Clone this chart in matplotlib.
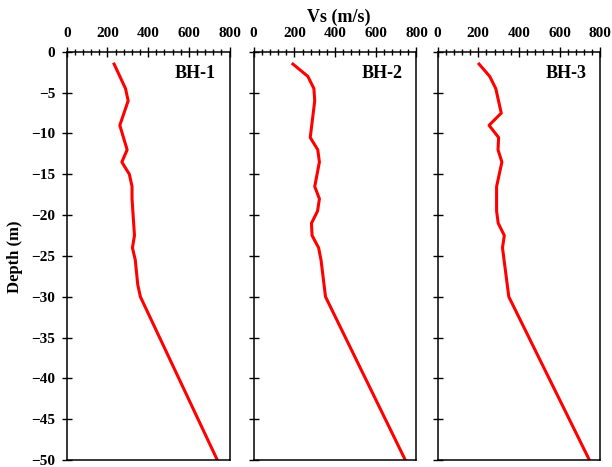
import numpy as np
import matplotlib
matplotlib.use('Agg')
import matplotlib.pyplot as plt
from matplotlib.ticker import MultipleLocator

plt.rcParams['font.family'] = ['Liberation Serif', 'DejaVu Serif']
plt.rcParams['font.weight'] = 'bold'

# Shear wave velocity profiles (Vs in m/s, depth in m)
labels = ['BH-1', 'BH-2', 'BH-3']

depth_bh1 = [-1.5, -4.5, -6, -9, -12, -13.5, -15, -16.5, -18, -22.5, -24, -25.5, -28.5, -30, -50]
vs_bh1 = [233, 289, 302, 261, 297, 271, 308, 321, 321, 333, 323, 337, 349, 362, 740]

depth_bh2 = [-1.5, -3, -4.5, -6, -10.5, -12, -13.5, -16.5, -18, -19.5, -21, -22.5, -24, -25.5, -30, -50]
vs_bh2 = [193, 266, 296, 300, 278, 315, 323, 300, 323, 314, 284, 287, 319, 331, 353, 745]

depth_bh3 = [-1.5, -3, -4.5, -7.5, -9, -10.5, -12, -13.5, -16.5, -19.5, -21, -22.5, -24, -30, -50]
vs_bh3 = [204, 256, 286, 313, 253, 300, 297, 316, 290, 290, 298, 328, 319, 350, 746]

profiles = [(vs_bh1, depth_bh1), (vs_bh2, depth_bh2), (vs_bh3, depth_bh3)]

fig = plt.figure(figsize=(6.12, 4.67), dpi=100)
lefts = [0.109, 0.4145, 0.715]
width = 0.266
bottom, height = 0.015, 0.874

for i, ((vs, d), name) in enumerate(zip(profiles, labels)):
    ax = fig.add_axes([lefts[i], bottom, width, height])
    ax.plot(vs, d, color='red', lw=2.2)
    ax.set_xlim(0, 800)
    ax.set_ylim(-50, 0)
    ax.xaxis.set_ticks_position('top')
    ax.xaxis.set_major_locator(MultipleLocator(200))
    ax.xaxis.set_minor_locator(MultipleLocator(40))
    ax.yaxis.set_major_locator(MultipleLocator(5))
    ax.tick_params(axis='both', which='major', direction='inout', length=6.5,
                   width=1, labelsize=11, pad=5)
    ax.tick_params(axis='x', which='minor', direction='inout', length=4.5, width=1)
    ax.tick_params(axis='y', which='both', right=False)
    for s in ax.spines.values():
        s.set_linewidth(1.1)
    for lab in ax.get_xticklabels() + ax.get_yticklabels():
        lab.set_fontweight('bold')
    if i > 0:
        ax.set_yticklabels([])
    ax.text(0.79, 0.948, name, transform=ax.transAxes, ha='center', va='center',
            fontsize=13, fontweight='bold')

fig.text(339 / 612, 1 - 17 / 467, 'Vs (m/s)', ha='center', va='center',
         fontsize=13, fontweight='bold')
fig.text(15 / 612, 1 - 257 / 467, 'Depth (m)', ha='center', va='center',
         rotation=90, fontsize=12, fontweight='bold')

fig.savefig('out.png', dpi=100)
